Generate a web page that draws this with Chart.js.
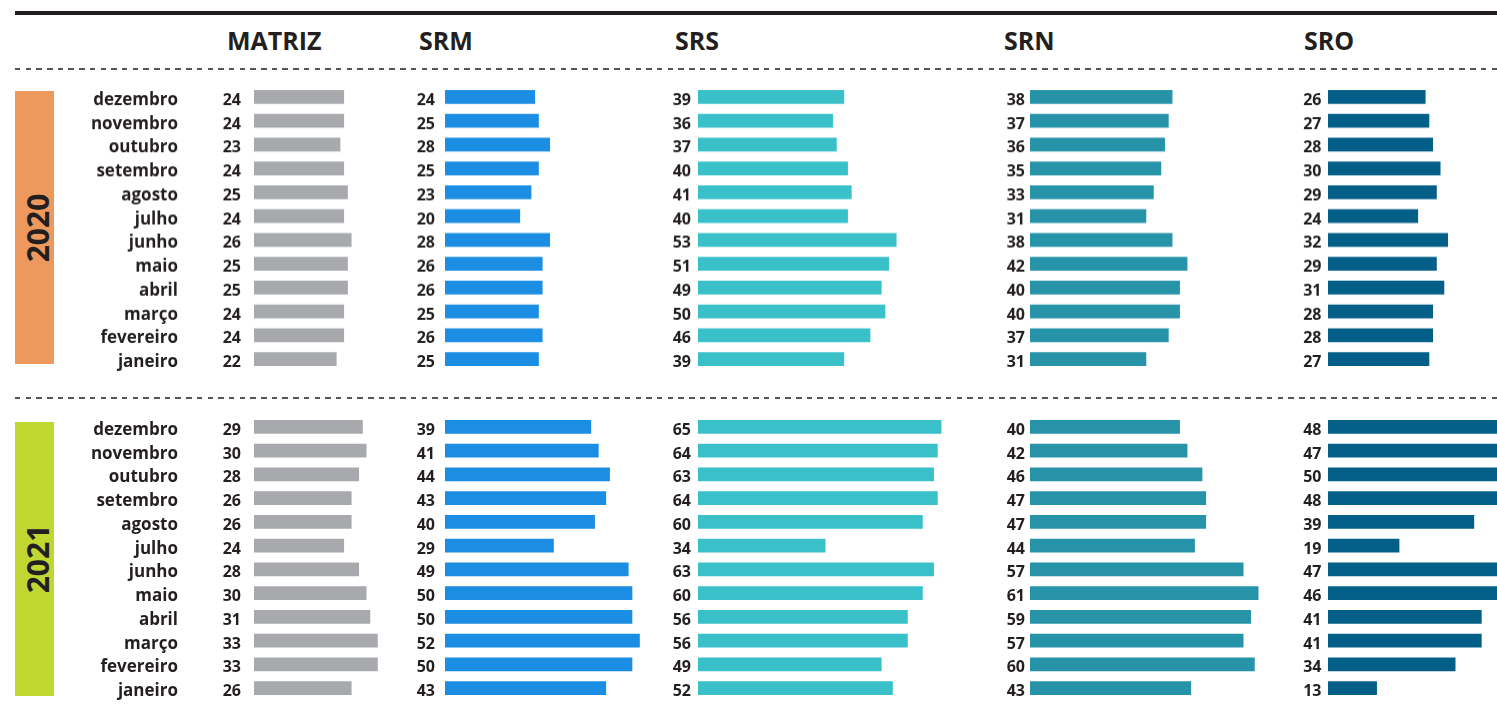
<!DOCTYPE html>
<html>
<head>
<meta charset="utf-8">
<script src="https://cdn.jsdelivr.net/npm/chart.js@4.4.0/dist/chart.umd.min.js"></script>
<style>
  html, body { margin: 0; padding: 0; background: #fff; overflow: hidden; width: 1497px; height: 716px; }
  body { position: relative; font-family: "Open Sans", sans-serif; color: #231f20; }
  .topline { position: absolute; left: 15px; top: 11px; width: 1482px; height: 4px; background: #231f20; }
  .dash { position: absolute; left: 15px; width: 1482px; height: 1.5px;
          background: repeating-linear-gradient(to right, #555 0 5.5px, transparent 5.5px 10.7px); }
  .head { position: absolute; top: 22.5px; font-weight: 700; font-size: 25px; line-height: normal; white-space: nowrap; }
  .band { position: absolute; left: 15px; width: 39px; }
  .year { position: absolute; font-weight: 700; font-size: 30px; line-height: normal;
          transform: translate(-50%, -50%) rotate(-90deg); white-space: nowrap; }
  .panel { position: absolute; }
</style>
</head>
<body>
<div class="topline"></div>
<div class="dash" style="top:68px"></div>
<div class="dash" style="top:397px"></div>
<div id="heads"></div>
<div class="band" style="top:91px;height:273px;background:#ed995d"></div>
<div class="band" style="top:422px;height:274px;background:#bfd730"></div>
<div class="year" style="left:37px;top:228px">2020</div>
<div class="year" style="left:37px;top:559px">2021</div>
<div id="charts"></div>

<script>
const months = ['dezembro', 'novembro', 'outubro', 'setembro', 'agosto', 'julho',
                'junho', 'maio', 'abril', 'março', 'fevereiro', 'janeiro'];
const regions = ['MATRIZ', 'SRM', 'SRS', 'SRN', 'SRO'];
const years = ['2020', '2021'];

// valores de dezembro a janeiro
const matriz2020 = [24, 24, 23, 24, 25, 24, 26, 25, 25, 24, 24, 22];
const srm2020    = [24, 25, 28, 25, 23, 20, 28, 26, 26, 25, 26, 25];
const srs2020    = [39, 36, 37, 40, 41, 40, 53, 51, 49, 50, 46, 39];
const srn2020    = [38, 37, 36, 35, 33, 31, 38, 42, 40, 40, 37, 31];
const sro2020    = [26, 27, 28, 30, 29, 24, 32, 29, 31, 28, 28, 27];

const matriz2021 = [29, 30, 28, 26, 26, 24, 28, 30, 31, 33, 33, 26];
const srm2021    = [39, 41, 44, 43, 40, 29, 49, 50, 50, 52, 50, 43];
const srs2021    = [65, 64, 63, 64, 60, 34, 63, 60, 56, 56, 49, 52];
const srn2021    = [40, 42, 46, 47, 47, 44, 57, 61, 59, 57, 60, 43];
const sro2021    = [48, 47, 50, 48, 39, 19, 47, 46, 41, 41, 34, 13];

const values = {
  '2020': [matriz2020, srm2020, srs2020, srn2020, sro2020],
  '2021': [matriz2021, srm2021, srs2021, srn2021, sro2021]
};

// layout
const colors = ['#a7a9ac', '#1b8de2', '#3ac0c9', '#2793a8', '#035f88'];
const barStart = [254, 445, 698, 1030, 1327.5];
const labelGap = [13, 10, 7, 5, 6.5];
const headX = [227, 419, 675, 1004, 1304];
const rowTop = { '2020': 85.3, '2021': 414.8 };
const rowsHeight = 285.6;
const plotWidth = 260;
const pxPerUnit = 3.74;
const monthRight = 178;

const heads = document.getElementById('heads');
regions.forEach((r, i) => {
  const d = document.createElement('div');
  d.className = 'head';
  d.style.left = headX[i] + 'px';
  d.textContent = r;
  heads.appendChild(d);
});

const rowLabels = {
  id: 'rowLabels',
  afterDatasetsDraw(chart, args, opts) {
    const { ctx, chartArea, scales } = chart;
    const data = chart.data.datasets[0].data;
    ctx.save();
    ctx.fillStyle = '#231f20';
    ctx.textAlign = 'right';
    ctx.textBaseline = 'alphabetic';
    data.forEach((v, i) => {
      const y = scales.y.getPixelForValue(i) + 8;
      ctx.font = 'bold 16px "Open Sans"';
      ctx.fillText(v, chartArea.left - opts.gap, y);
      if (opts.monthX != null) {
        ctx.font = 'bold 17px "Open Sans"';
        ctx.fillText(chart.data.labels[i], opts.monthX, y);
      }
    });
    ctx.restore();
  }
};

const holder = document.getElementById('charts');
years.forEach(year => {
  regions.forEach((r, i) => {
    const padLeft = i === 0 ? barStart[0] - 60 : 60;
    const left = barStart[i] - padLeft;
    const w = padLeft + plotWidth;
    const div = document.createElement('div');
    div.className = 'panel';
    div.style.left = left + 'px';
    div.style.top = rowTop[year] + 'px';
    const canvas = document.createElement('canvas');
    canvas.width = w;
    canvas.height = rowsHeight;
    canvas.style.width = w + 'px';
    canvas.style.height = rowsHeight + 'px';
    div.appendChild(canvas);
    holder.appendChild(div);

    new Chart(canvas, {
      type: 'bar',
      data: {
        labels: months,
        datasets: [{
          label: r + ' ' + year,
          data: values[year][i],
          backgroundColor: colors[i],
          borderWidth: 0,
          barThickness: 13
        }]
      },
      options: {
        indexAxis: 'y',
        responsive: false,
        animation: false,
        layout: { padding: { left: padLeft, right: 0, top: 0, bottom: 0 } },
        scales: {
          x: { type: 'linear', min: 0, max: plotWidth / pxPerUnit, display: false },
          y: { type: 'category', display: false, offset: true }
        },
        plugins: {
          legend: { display: false },
          tooltip: { enabled: false },
          rowLabels: { gap: labelGap[i], monthX: i === 0 ? monthRight - left : null }
        }
      },
      plugins: [rowLabels]
    });
  });
});
</script>
</body>
</html>
